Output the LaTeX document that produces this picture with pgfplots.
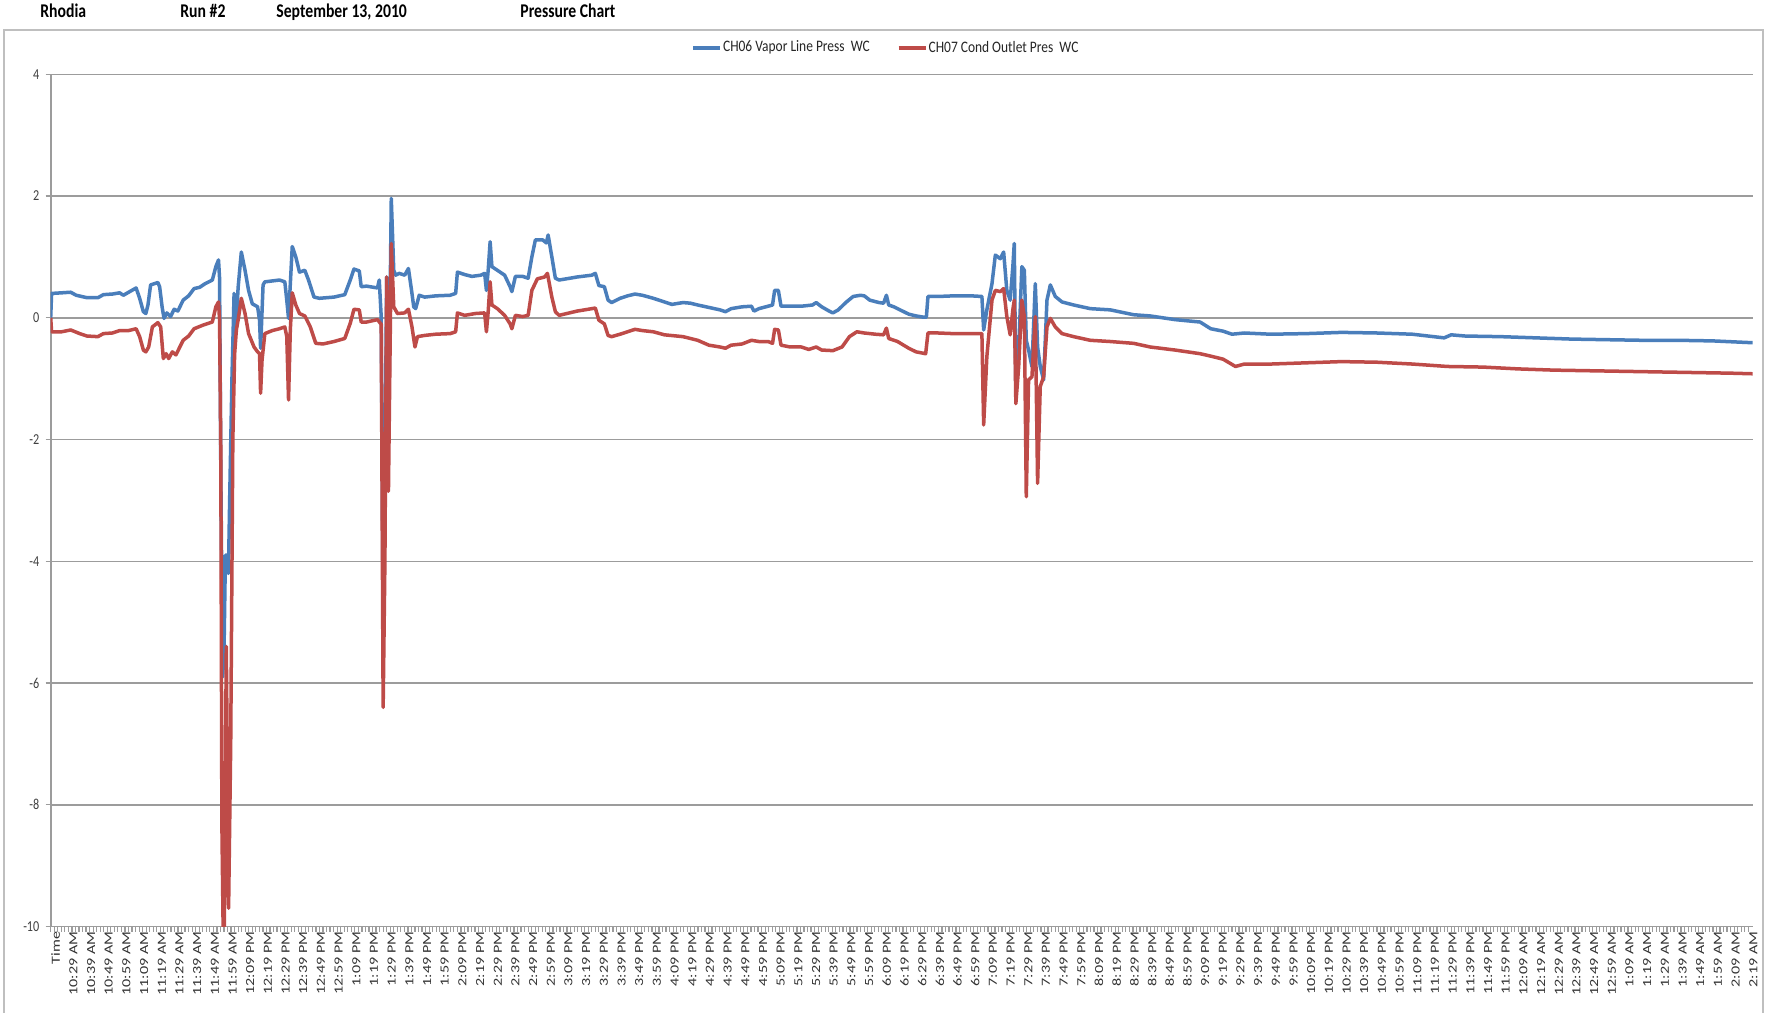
\documentclass[border=0pt]{standalone}
\usepackage{fontspec}
\setmainfont{Carlito}
\newfontfamily\hdrfont[FakeStretch=0.81]{Carlito}
\newfontfamily\legfont[FakeStretch=0.84]{Carlito}
\newfontfamily\yfont[FakeStretch=0.8]{Carlito}
\newfontfamily\xfont[FakeStretch=1.3]{Carlito}
\usepackage{pgfplots}
\pgfplotsset{compat=1.18}
\usepackage{pgfplotstable}
\definecolor{sblue}{HTML}{4A7EBB}
\definecolor{sred}{HTML}{BE4B48}
\definecolor{gridc}{HTML}{9C9C9C}

\pgfplotstableread{
u v
0 0
0.05 0.40
0.62 0.41
1.13 0.42
1.44 0.37
2.05 0.33
2.67 0.33
2.98 0.38
3.49 0.39
3.90 0.41
4.11 0.37
4.41 0.42
4.83 0.49
5.03 0.32
5.24 0.10
5.38 0.07
5.50 0.21
5.65 0.54
6.06 0.58
6.16 0.51
6.30 0.18
6.41 -0.01
6.57 0.08
6.78 0.02
6.98 0.14
7.19 0.11
7.49 0.29
7.80 0.36
8.11 0.48
8.42 0.50
8.73 0.56
9.14 0.62
9.34 0.84
9.49 0.95
9.55 0.65
9.62 -2.5
9.72 -5.9
9.80 -5.5
9.88 -3.9
9.98 -3.9
10.05 -4.2
10.12 -3.0
10.25 -1.0
10.37 0.40
10.47 -0.20
10.60 0.50
10.78 1.08
10.99 0.78
11.19 0.45
11.40 0.23
11.70 0.18
11.81 -0.04
11.87 -0.50
12.01 0.54
12.11 0.59
12.94 0.62
13.24 0.59
13.35 0.29
13.45 -0.01
13.66 1.17
13.86 1.00
14.07 0.75
14.37 0.78
14.58 0.62
14.89 0.34
15.20 0.32
16.02 0.34
16.63 0.38
16.94 0.62
17.15 0.80
17.45 0.77
17.56 0.51
17.86 0.52
18.48 0.49
18.58 0.62
18.69 0.02
18.80 -5.0
18.92 -2.0
19.00 0.67
19.10 -2.0
19.26 1.96
19.40 0.78
19.51 0.70
19.71 0.73
20.02 0.70
20.23 0.81
20.43 0.40
20.53 0.18
20.64 0.15
20.84 0.37
21.15 0.34
21.77 0.36
22.59 0.37
22.90 0.40
23.00 0.75
23.41 0.71
23.82 0.68
24.33 0.70
24.54 0.73
24.64 0.45
24.74 0.78
24.85 1.25
24.95 0.84
25.26 0.78
25.67 0.70
25.98 0.51
26.08 0.43
26.28 0.68
26.69 0.68
27.00 0.65
27.21 1.00
27.41 1.28
27.82 1.28
28.03 1.23
28.13 1.36
28.34 1.00
28.54 0.65
28.75 0.62
29.77 0.67
30.60 0.70
30.80 0.73
31.00 0.53
31.31 0.51
31.52 0.29
31.72 0.25
32.20 0.32
32.62 0.36
33.04 0.39
33.46 0.37
34.08 0.32
34.71 0.26
35.13 0.22
35.76 0.25
36.17 0.24
36.59 0.21
37.22 0.17
37.85 0.13
38.16 0.10
38.48 0.15
39.10 0.18
39.63 0.19
39.77 0.11
40.05 0.15
40.57 0.19
40.82 0.21
40.94 0.45
41.15 0.45
41.30 0.19
41.82 0.19
42.45 0.19
43.08 0.21
43.29 0.25
43.60 0.18
44.02 0.11
44.23 0.08
44.54 0.13
44.96 0.25
45.38 0.35
45.80 0.37
46.01 0.36
46.32 0.29
46.84 0.25
47.10 0.24
47.26 0.37
47.39 0.21
47.68 0.18
48.10 0.12
48.52 0.06
48.94 0.03
49.35 0.01
49.52 0.01
49.61 0.35
50.19 0.35
51.03 0.36
52.07 0.36
52.66 0.35
52.76 -0.20
52.94 0.13
53.23 0.56
53.42 1.03
53.70 0.97
53.89 1.08
54.07 0.45
54.26 0.29
54.41 0.84
54.49 1.22
54.58 -1.20
54.74 -0.53
54.92 0.84
55.06 0.78
55.17 -0.37
55.30 -0.53
55.49 -0.80
55.68 0.56
55.81 -0.48
55.96 -0.80
56.15 -1.02
56.34 0.29
56.53 0.54
56.81 0.35
57.19 0.26
57.85 0.21
58.79 0.15
59.92 0.13
61.24 0.05
62.18 0.03
63.58 -0.03
65.00 -0.07
65.60 -0.18
66.30 -0.22
66.80 -0.27
67.50 -0.25
69.00 -0.27
71.00 -0.26
73.00 -0.24
75.00 -0.25
77.00 -0.27
78.80 -0.33
79.20 -0.28
80.00 -0.30
82.00 -0.31
84.00 -0.33
86.00 -0.35
88.00 -0.36
90.00 -0.37
92.00 -0.37
94.00 -0.38
95.50 -0.40
96.25 -0.41
}\blueseries

\pgfplotstableread{
u v
0 0
0.05 -0.23
0.62 -0.23
1.13 -0.20
1.64 -0.26
2.05 -0.30
2.67 -0.31
2.98 -0.26
3.49 -0.25
3.90 -0.21
4.41 -0.21
4.83 -0.18
5.03 -0.31
5.24 -0.53
5.38 -0.56
5.54 -0.48
5.75 -0.15
6.06 -0.08
6.22 -0.15
6.37 -0.67
6.53 -0.59
6.67 -0.67
6.88 -0.56
7.08 -0.61
7.49 -0.37
7.80 -0.30
8.11 -0.18
8.62 -0.12
9.14 -0.07
9.34 0.18
9.49 0.26
9.55 -0.04
9.62 -2.2
9.68 -8.3
9.75 -10
9.82 -10
9.93 -5.4
10.06 -9.7
10.18 -7.0
10.30 -2.0
10.40 -0.6
10.50 -0.2
10.62 0.0
10.78 0.32
10.99 0.07
11.19 -0.26
11.50 -0.48
11.70 -0.56
11.81 -0.59
11.87 -1.24
11.95 -0.70
12.11 -0.26
12.53 -0.21
12.94 -0.18
13.24 -0.15
13.35 -0.31
13.45 -1.35
13.55 -0.20
13.66 0.41
13.86 0.21
14.07 0.07
14.37 0.03
14.68 -0.15
14.99 -0.42
15.40 -0.43
16.02 -0.39
16.63 -0.34
16.94 -0.09
17.15 0.14
17.45 0.13
17.56 -0.07
17.86 -0.07
18.48 -0.03
18.64 -0.09
18.69 -0.10
18.80 -6.4
18.90 -4.0
19.00 0.67
19.10 -2.85
19.26 1.22
19.40 0.18
19.61 0.07
20.02 0.08
20.23 0.14
20.43 -0.15
20.60 -0.48
20.74 -0.31
21.15 -0.29
21.77 -0.27
22.59 -0.26
22.90 -0.23
23.00 0.08
23.41 0.04
24.02 0.07
24.54 0.08
24.64 -0.23
24.74 0.10
24.85 0.59
24.95 0.21
25.26 0.15
25.67 0.04
25.98 -0.10
26.08 -0.18
26.28 0.04
26.69 0.02
27.00 0.04
27.21 0.45
27.52 0.64
27.93 0.67
28.09 0.73
28.34 0.34
28.54 0.10
28.75 0.04
29.77 0.11
30.60 0.15
30.80 0.16
31.00 -0.04
31.31 -0.10
31.52 -0.29
31.72 -0.31
32.20 -0.27
32.62 -0.23
33.04 -0.19
33.46 -0.21
34.08 -0.23
34.71 -0.28
35.76 -0.31
36.59 -0.37
37.22 -0.45
37.85 -0.48
38.16 -0.50
38.48 -0.45
39.10 -0.43
39.63 -0.37
40.05 -0.39
40.57 -0.39
40.82 -0.42
40.94 -0.19
41.15 -0.20
41.30 -0.45
41.82 -0.48
42.45 -0.48
42.87 -0.52
43.29 -0.48
43.60 -0.53
44.23 -0.54
44.75 -0.48
45.17 -0.31
45.59 -0.23
46.01 -0.25
46.64 -0.27
47.10 -0.28
47.26 -0.17
47.39 -0.34
47.89 -0.39
48.52 -0.50
48.94 -0.56
49.48 -0.59
49.61 -0.25
50.19 -0.25
51.03 -0.26
52.07 -0.26
52.66 -0.26
52.76 -1.76
52.94 -0.64
53.23 0.29
53.42 0.45
53.70 0.43
53.89 0.48
54.07 0.02
54.26 -0.28
54.41 0.13
54.49 0.29
54.58 -1.41
54.74 -0.80
54.92 0.29
55.06 0.02
55.17 -2.94
55.30 -1.02
55.49 -0.97
55.68 0.02
55.81 -2.72
55.96 -1.13
56.15 -0.97
56.34 -0.15
56.53 -0.01
56.81 -0.15
57.19 -0.26
57.85 -0.31
58.79 -0.37
59.92 -0.39
61.24 -0.42
62.18 -0.48
63.58 -0.53
65.00 -0.59
65.60 -0.63
66.30 -0.68
67.00 -0.80
67.50 -0.76
69.00 -0.76
71.00 -0.74
73.00 -0.72
75.00 -0.73
77.00 -0.76
79.00 -0.80
81.00 -0.81
83.00 -0.84
85.00 -0.86
87.00 -0.87
89.00 -0.88
91.00 -0.89
93.00 -0.90
95.00 -0.91
96.25 -0.92
}\redseries

\begin{document}
\begin{tikzpicture}
\useasboundingbox (0,0) rectangle (882.5bp,506.5bp);
\fill[white] (0,0) rectangle (882.5bp,506.5bp);
\draw[gray!50, line width=1bp] (2bp,-20bp) rectangle (881.5bp,491.5bp);
\begin{scope}[every node/.style={anchor=base west, inner sep=0pt, font=\hdrfont\bfseries\fontsize{9.7bp}{11bp}\selectfont}]
\node at (20bp,497.75bp) {Rhodia};
\node at (90bp,497.75bp) {Run \#2};
\node at (138bp,497.75bp) {September 13, 2010};
\node at (260bp,497.75bp) {Pressure Chart};
\end{scope}
\begin{axis}[
  at={(25.35bp,43.25bp)}, anchor=south west,
  width=851bp, height=426.1bp, scale only axis,
  xmin=0, xmax=96.25, ymin=-10, ymax=4,
  axis x line*=bottom, axis y line*=left,
  axis line style={gridc, line width=0.8bp},
  tick align=outside,
  major tick length=2.5bp, minor tick length=2.5bp,
  tick style={gridc, line width=0.6bp},
  xtick={0,1,...,96}, minor x tick num=4,
  ytick={-10,-8,-6,-4,-2,0,2,4},
  yticklabels={-10,-8,-6,-4,-2,0,2,4},
  ymajorgrids, grid style={gridc, line width=0.75bp},
  xticklabels={Time,10:29 AM,10:39 AM,10:49 AM,10:59 AM,11:09 AM,11:19 AM,11:29 AM,11:39 AM,11:49 AM,11:59 AM,
  12:09 PM,12:19 PM,12:29 PM,12:39 PM,12:49 PM,12:59 PM,
  1:09 PM,1:19 PM,1:29 PM,1:39 PM,1:49 PM,1:59 PM,
  2:09 PM,2:19 PM,2:29 PM,2:39 PM,2:49 PM,2:59 PM,
  3:09 PM,3:19 PM,3:29 PM,3:39 PM,3:49 PM,3:59 PM,
  4:09 PM,4:19 PM,4:29 PM,4:39 PM,4:49 PM,4:59 PM,
  5:09 PM,5:19 PM,5:29 PM,5:39 PM,5:49 PM,5:59 PM,
  6:09 PM,6:19 PM,6:29 PM,6:39 PM,6:49 PM,6:59 PM,
  7:09 PM,7:19 PM,7:29 PM,7:39 PM,7:49 PM,7:59 PM,
  8:09 PM,8:19 PM,8:29 PM,8:39 PM,8:49 PM,8:59 PM,
  9:09 PM,9:19 PM,9:29 PM,9:39 PM,9:49 PM,9:59 PM,
  10:09 PM,10:19 PM,10:29 PM,10:39 PM,10:49 PM,10:59 PM,
  11:09 PM,11:19 PM,11:29 PM,11:39 PM,11:49 PM,11:59 PM,
  12:09 AM,12:19 AM,12:29 AM,12:39 AM,12:49 AM,12:59 AM,
  1:09 AM,1:19 AM,1:29 AM,1:39 AM,1:49 AM,1:59 AM,
  2:09 AM,2:19 AM},
  xticklabel style={rotate=90, anchor=east, inner sep=0pt, xshift=0bp, yshift=-2.5bp, text=black!80,
    font=\xfont\fontsize{6.2bp}{7bp}\selectfont},
  yticklabel style={anchor=east, inner sep=0pt, xshift=-3bp, text=black!75,
    font=\yfont\fontsize{7.6bp}{9bp}\selectfont},
  legend columns=2,
  legend style={at={(0.4905,1.0309)}, anchor=center, draw=none, fill=none,
    font=\legfont\fontsize{8bp}{9bp}\selectfont, text=black!85,
    nodes={inner sep=0.6bp},
    /tikz/every even column/.append style={column sep=13bp}},
  legend image code/.code={\draw[#1] (0bp,0bp) -- (13.5bp,0bp);},
  every axis plot/.append style={line width=1.75bp, line join=round, sharp plot},
]
\addplot[sblue] table[x=u, y=v] {\blueseries};
\addlegendentry{CH06 Vapor Line Press\ \ WC}
\addplot[sred] table[x=u, y=v] {\redseries};
\addlegendentry{CH07 Cond Outlet Pres\ \ WC}
\end{axis}
\end{tikzpicture}
\end{document}
